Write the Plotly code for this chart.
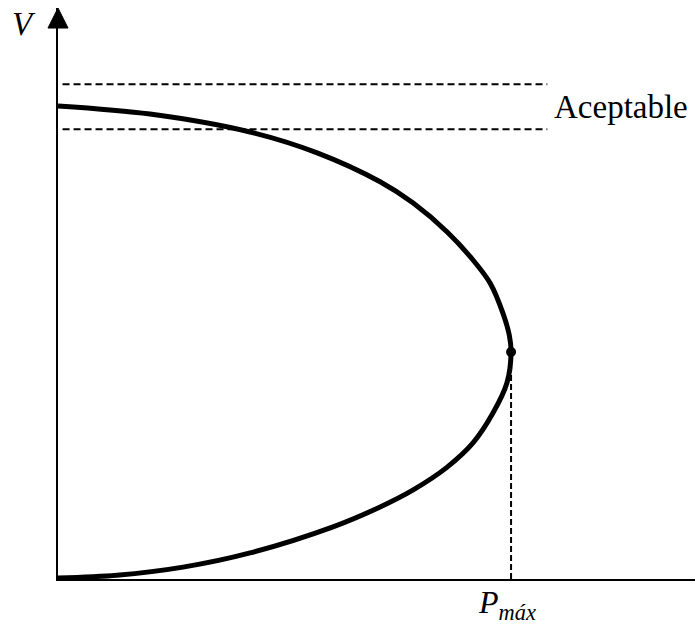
import plotly.graph_objects as go

# Curve (P normalised to P_max = 1, V normalised to V at P=0 = 1)
p_upper = [0.0, 0.203, 0.424, 0.572, 0.711, 0.784, 0.859, 0.916, 0.954, 0.982, 0.996, 1.0]
v_upper = [0.998, 0.981, 0.943, 0.899, 0.838, 0.793, 0.732, 0.673, 0.624, 0.561, 0.515, 0.479]
p_lower = [1.0, 0.991, 0.960, 0.916, 0.859, 0.784, 0.711, 0.607, 0.424, 0.276, 0.130, 0.0]
v_lower = [0.479, 0.414, 0.350, 0.287, 0.236, 0.188, 0.152, 0.110, 0.055, 0.025, 0.008, 0.002]

p_max = 1.0
v_nose = 0.479
band_top = 1.044
band_bottom = 0.949
band_end = 1.080

label_band = "Aceptable"
label_v = "<i>V</i>"
label_p = "<i>P</i><sub><i>máx</i></sub>"

X_RANGE = [0, 1.406]
Y_RANGE = [0, 1.2046]

FONT = "Liberation Serif, Times New Roman, serif"

fig = go.Figure()

# acceptable band (dashed)
for v in (band_top, band_bottom):
    fig.add_trace(go.Scatter(x=[0.01, band_end], y=[v, v], mode="lines",
                             line=dict(color="black", width=2, dash="7px,4px"),
                             hoverinfo="skip", showlegend=False))

# vertical dashed at P_max
fig.add_trace(go.Scatter(x=[p_max, p_max], y=[0, v_nose], mode="lines",
                         line=dict(color="black", width=2, dash="6px,3px"),
                         hoverinfo="skip", showlegend=False))

# PV nose curve
fig.add_trace(go.Scatter(x=p_upper + p_lower[1:], y=v_upper + v_lower[1:], mode="lines",
                         line=dict(color="black", width=5, shape="spline", smoothing=0.9),
                         hoverinfo="skip", showlegend=False))

# nose point
fig.add_trace(go.Scatter(x=[p_max], y=[v_nose], mode="markers",
                         marker=dict(color="black", size=10),
                         hoverinfo="skip", showlegend=False))

# y-axis arrow head
fig.add_shape(type="path", xref="paper", yref="paper",
              path="M -0.0157 0.9649 L 0.0157 0.9649 L 0 1.0 Z",
              fillcolor="black", line=dict(color="black", width=1))

fig.add_annotation(x=(552 - 58) / 637, y=(579 - 107) / 571, xref="paper", yref="paper",
                   text=label_band, showarrow=False, xanchor="left", yanchor="middle",
                   font=dict(family=FONT, size=33, color="black"))
fig.add_annotation(x=-0.053, y=(579 - 24) / 571, xref="paper", yref="paper",
                   text=label_v, showarrow=False, xanchor="center", yanchor="middle",
                   font=dict(family=FONT, size=33, color="black"))
fig.add_annotation(x=p_max, y=0, xref="x", yref="paper",
                   text=label_p, showarrow=False, xanchor="center", yanchor="top",
                   yshift=-3, xshift=-4,
                   font=dict(family=FONT, size=32, color="black"))

fig.update_xaxes(range=X_RANGE, showgrid=False, zeroline=False, showticklabels=False,
                 ticks="", showline=True, linecolor="black", linewidth=2, fixedrange=True)
fig.update_yaxes(range=Y_RANGE, showgrid=False, zeroline=False, showticklabels=False,
                 ticks="", showline=True, linecolor="black", linewidth=2, fixedrange=True)

fig.update_layout(width=695, height=626, margin=dict(l=58, r=0, t=8, b=47),
                  plot_bgcolor="white", paper_bgcolor="white")

fig.write_html("out.html", config={"displayModeBar": False},
               post_script="document.body.style.margin='0';document.body.style.overflow='hidden';")
